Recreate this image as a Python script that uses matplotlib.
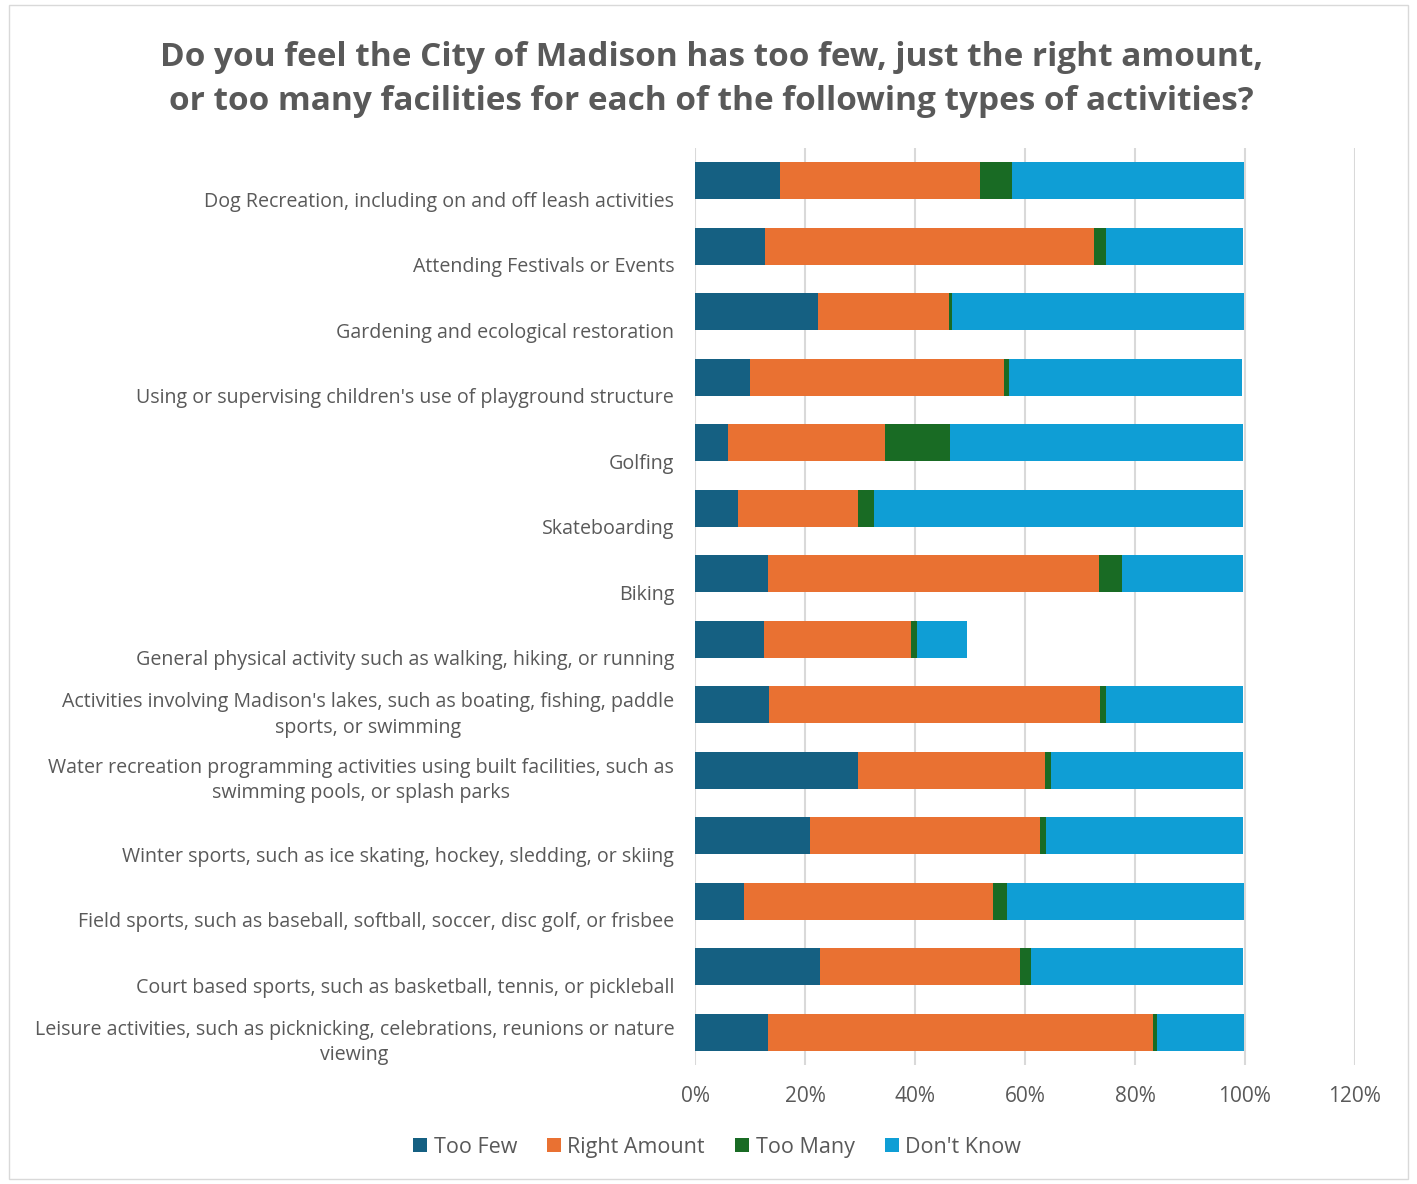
import matplotlib
matplotlib.use("Agg")
import matplotlib.pyplot as plt
import matplotlib.transforms as mtransforms
from matplotlib.patches import Rectangle, Patch
from matplotlib.ticker import PercentFormatter

# ── Data (percent of respondents) ─────────────────────────
categories = [
    "Dog Recreation, including on and off leash activities",
    "Attending Festivals or Events",
    "Gardening and ecological restoration",
    "Using or supervising children's use of playground structure",
    "Golfing",
    "Skateboarding",
    "Biking",
    "General physical activity such as walking, hiking, or running",
    "Activities involving Madison's lakes, such as boating, fishing, paddle\nsports, or swimming",
    "Water recreation programming activities using built facilities, such as\nswimming pools, or splash parks",
    "Winter sports, such as ice skating, hockey, sledding, or skiing",
    "Field sports, such as baseball, softball, soccer, disc golf, or frisbee",
    "Court based sports, such as basketball, tennis, or pickleball",
    "Leisure activities, such as picknicking, celebrations, reunions or nature\nviewing",
]
too_few = [15.4, 12.7, 22.3, 10.0, 6.0, 7.9, 13.3, 12.6, 13.4, 29.7, 20.9, 8.9, 22.8, 13.3]
right_amount = [36.5, 59.9, 23.8, 46.2, 28.6, 21.7, 60.1, 26.7, 60.2, 33.9, 41.9, 45.2, 36.3, 69.9]
too_many = [5.7, 2.1, 0.7, 0.9, 11.8, 2.9, 4.3, 1.0, 1.1, 1.1, 1.0, 2.7, 2.0, 0.8]
dont_know = [42.2, 25.0, 53.0, 42.4, 53.3, 67.2, 22.0, 9.2, 25.0, 34.9, 35.8, 43.0, 38.6, 15.8]

series = [
    ("Too Few", too_few, "#156082"),
    ("Right Amount", right_amount, "#E97132"),
    ("Too Many", too_many, "#196B24"),
    ("Don't Know", dont_know, "#0F9ED5"),
]

TEXT = "#595959"
GRID = "#d9d9d9"

plt.rcParams["font.family"] = ["Open Sans", "DejaVu Sans"]

fig = plt.figure(figsize=(14.17, 11.84), dpi=100)
ax = fig.add_axes([0.4905, 0.1005, 0.4657, 0.7745])

# ── Stacked bars ─────────────────────────────────────────
ypos = list(range(len(categories)))
left = [0.0] * len(categories)
for name, vals, color in series:
    ax.barh(ypos, vals, left=left, height=0.565, color=color,
            edgecolor="none", label=name, zorder=3)
    left = [a + b for a, b in zip(left, vals)]

ax.set_xlim(0, 120)
ax.set_ylim(len(categories) - 0.5, -0.5)
ax.set_xticks(range(0, 121, 20))
ax.xaxis.set_major_formatter(PercentFormatter(decimals=0))
ax.grid(axis="x", color=GRID, linewidth=1.5, zorder=0)
for s in ax.spines.values():
    s.set_visible(False)
ax.tick_params(axis="both", length=0, colors=TEXT)
ax.tick_params(axis="x", labelsize=15, pad=15)

ax.set_yticks(ypos)
ax.set_yticklabels(categories, fontsize=14.1, color=TEXT,
                   multialignment="center", linespacing=1.35)
ax.tick_params(axis="y", pad=15)

# Excel pushes single-line labels toward the bottom of their band
for lbl, cat in zip(ax.get_yticklabels(), categories):
    dy = -5 / 100 if "\n" in cat else -18.5 / 100
    lbl.set_transform(lbl.get_transform() +
                      mtransforms.ScaledTranslation(0, dy, fig.dpi_scale_trans))

# ── Title ────────────────────────────────────────────────
fig.text(0.502, 0.9655,
         "Do you feel the City of Madison has too few, just the right amount,\n"
         "or too many facilities for each of the following types of activities?",
         ha="center", va="top", fontsize=24, fontweight="bold", color=TEXT,
         linespacing=1.46)

# ── Legend ───────────────────────────────────────────────
handles = [Patch(facecolor=c, label=n) for n, _, c in series]
fig.legend(handles=handles, loc="center", bbox_to_anchor=(0.506, 0.031),
           ncol=4, frameon=False, fontsize=15.5, handlelength=0.65,
           handleheight=0.65, handletextpad=0.3, columnspacing=1.4,
           labelcolor=TEXT)

# chart area border
fig.patches.append(Rectangle((0.006, 0.004), 0.988, 0.992, transform=fig.transFigure,
                             fill=False, edgecolor=GRID, linewidth=1))

fig.savefig("out.png", dpi=100)
